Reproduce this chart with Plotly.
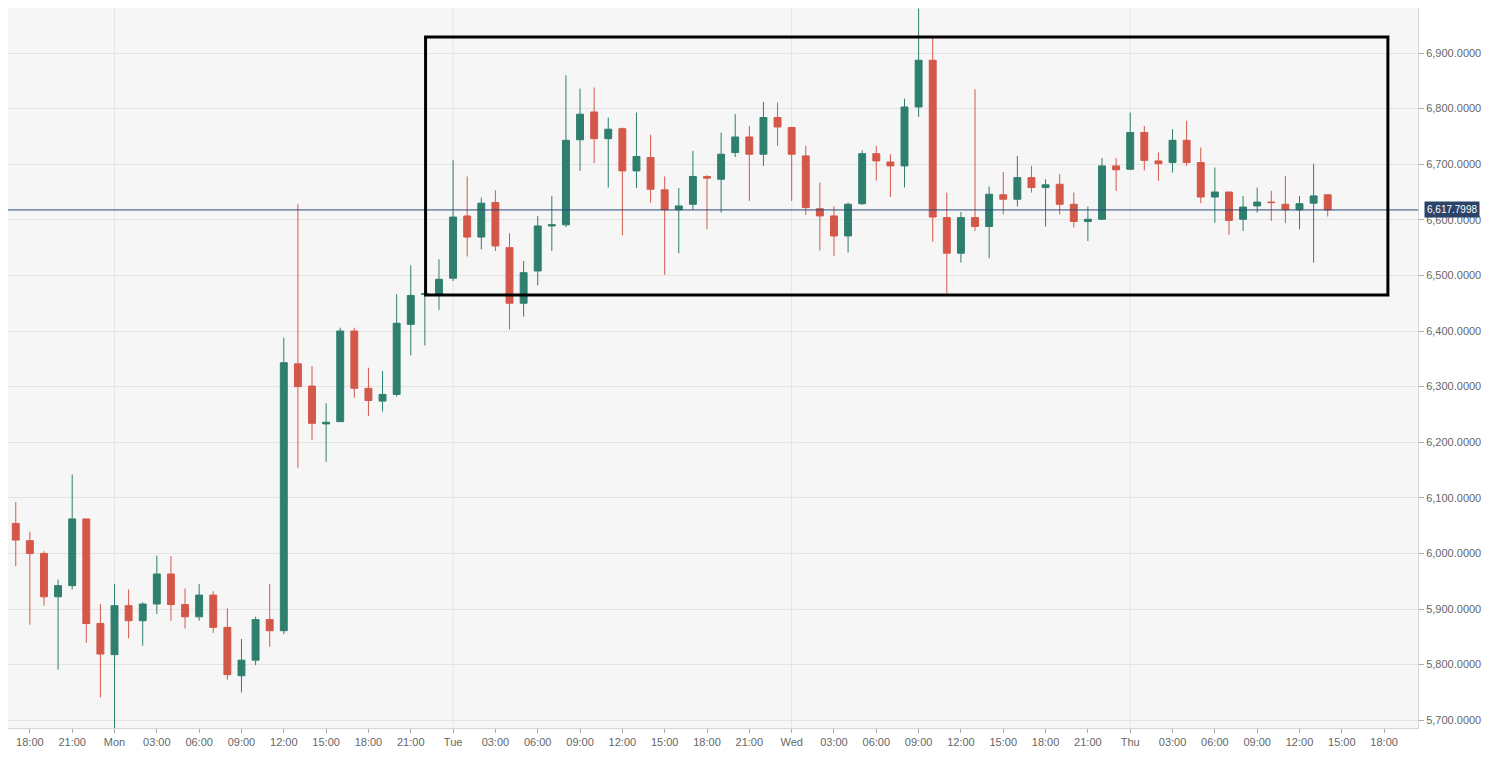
import pandas as pd
import plotly.graph_objects as go

# hourly candles, Sun 17:00 -> Thu 13:00
start = '2018-08-12 17:00'
opens = [6054, 6023, 6000, 5922, 5942, 6062, 5874, 5818, 5906, 5879,
         5909, 5963, 5908, 5886, 5925, 5867, 5780, 5808, 5881, 5861,
         6341, 6301, 6233, 6237, 6400, 6297, 6274, 6286, 6412, 6466,
         6466, 6495, 6607, 6569, 6631, 6550, 6450, 6508, 6589, 6591,
         6744, 6794, 6746, 6764, 6688, 6712, 6654, 6618, 6628, 6678,
         6673, 6721, 6749, 6718, 6784, 6766, 6715, 6620, 6607, 6571,
         6629, 6719, 6704, 6697, 6803, 6887, 6604, 6540, 6604, 6588,
         6645, 6637, 6676, 6658, 6664, 6628, 6597, 6601, 6697, 6691,
         6757, 6706, 6703, 6743, 6703, 6641, 6650, 6601, 6625, 6632,
         6628, 6618, 6630, 6645]
highs = [6092, 6039, 6004, 5953, 6142, 6062, 5909, 5945, 5935, 5912,
         5996, 5995, 5937, 5945, 5932, 5901, 5846, 5886, 5945, 6388,
         6628, 6337, 6270, 6406, 6406, 6334, 6328, 6466, 6518, 6470,
         6529, 6707, 6678, 6640, 6653, 6576, 6526, 6607, 6643, 6860,
         6836, 6838, 6784, 6766, 6793, 6753, 6678, 6657, 6724, 6680,
         6757, 6790, 6769, 6812, 6811, 6766, 6733, 6667, 6624, 6631,
         6725, 6733, 6718, 6818, 6980, 6927, 6649, 6614, 6835, 6660,
         6686, 6715, 6697, 6673, 6682, 6649, 6624, 6711, 6711, 6793,
         6769, 6721, 6763, 6778, 6730, 6694, 6650, 6643, 6658, 6652,
         6679, 6643, 6701, 6645]
lows = [5977, 5872, 5906, 5791, 5935, 5839, 5741, 5679, 5847, 5834,
        5891, 5879, 5865, 5879, 5857, 5773, 5750, 5799, 5832, 5855,
        6154, 6204, 6165, 6237, 6280, 6247, 6255, 6282, 6356, 6374,
        6438, 6490, 6534, 6547, 6544, 6403, 6426, 6482, 6544, 6587,
        6688, 6702, 6658, 6572, 6657, 6631, 6501, 6540, 6618, 6583,
        6613, 6713, 6634, 6697, 6733, 6634, 6609, 6545, 6535, 6541,
        6627, 6671, 6641, 6658, 6785, 6561, 6468, 6523, 6580, 6531,
        6610, 6624, 6649, 6588, 6610, 6586, 6562, 6600, 6652, 6690,
        6689, 6670, 6685, 6697, 6630, 6595, 6573, 6580, 6613, 6598,
        6594, 6583, 6523, 6606]
closes = [6024, 6000, 5922, 5942, 6062, 5874, 5819, 5906, 5879, 5909,
          5963, 5908, 5886, 5925, 5867, 5782, 5808, 5881, 5861, 6343,
          6300, 6234, 6236, 6400, 6297, 6275, 6286, 6414, 6464, 6467,
          6493, 6605, 6569, 6630, 6553, 6450, 6505, 6589, 6591, 6743,
          6790, 6746, 6763, 6688, 6714, 6655, 6618, 6625, 6678, 6675,
          6718, 6749, 6718, 6784, 6767, 6718, 6622, 6607, 6571, 6628,
          6719, 6706, 6697, 6803, 6887, 6605, 6540, 6604, 6588, 6646,
          6637, 6676, 6658, 6663, 6628, 6597, 6601, 6697, 6690, 6757,
          6707, 6701, 6743, 6703, 6641, 6650, 6599, 6623, 6632, 6631,
          6618, 6629, 6643, 6617.7998]
last_price = 6617.7998

times = pd.date_range(start, periods=len(opens), freq='h')

tick_times = pd.date_range('2018-08-12 18:00', '2018-08-16 18:00', freq='3h')
tick_text = [t.strftime('%a') if t.hour == 0 else t.strftime('%H:%M') for t in tick_times]
day_lines = [t for t in tick_times if t.hour == 0]

green = '#2f7f6e'
red = '#d4584a'

fig = go.Figure(go.Candlestick(
    x=times, open=opens, high=highs, low=lows, close=closes,
    increasing=dict(line=dict(color=green, width=1), fillcolor=green),
    decreasing=dict(line=dict(color=red, width=1), fillcolor=red),
    whiskerwidth=0, showlegend=False,
))

for d in day_lines:
    fig.add_vline(x=d, line=dict(color='#e4e4e4', width=1), layer='below')

fig.add_hline(y=last_price, line=dict(color='#2c4a78', width=1))

# highlighted consolidation box
fig.add_shape(type='rect', x0=pd.Timestamp('2018-08-13 22:03'), x1=pd.Timestamp('2018-08-16 18:16'),
              y0=6465, y1=6929, line=dict(color='black', width=3), fillcolor='rgba(0,0,0,0)')

fig.add_annotation(x=1, xref='paper', y=last_price, yref='y', xanchor='left', xshift=6,
                   text=f'{last_price:,.4f}', showarrow=False,
                   font=dict(color='white', size=10, family='Arial'),
                   bgcolor='#2b4468', borderpad=2)

fig.update_layout(
    width=1488, height=754,
    margin=dict(l=0, r=78, t=0, b=34),
    paper_bgcolor='white', plot_bgcolor='#f6f6f6',
    font=dict(family='Arial', size=11, color='#666666'),
    xaxis=dict(range=[pd.Timestamp('2018-08-12 16:27'), pd.Timestamp('2018-08-16 20:24')],
               rangeslider=dict(visible=False), tickvals=tick_times, ticktext=tick_text,
               showgrid=False, ticks='outside', ticklen=4, tickcolor='#aaaaaa',
               showline=True, linecolor='#d0d6e0'),
    yaxis=dict(side='right', range=[5686, 6981], dtick=100, tickformat=',.4f',
               gridcolor='#e4e4e4', ticks='outside', ticklen=5, tickcolor='#aaaaaa',
               showline=True, linecolor='#d0d6e0', zeroline=False),
)

fig.write_html('out.html')
